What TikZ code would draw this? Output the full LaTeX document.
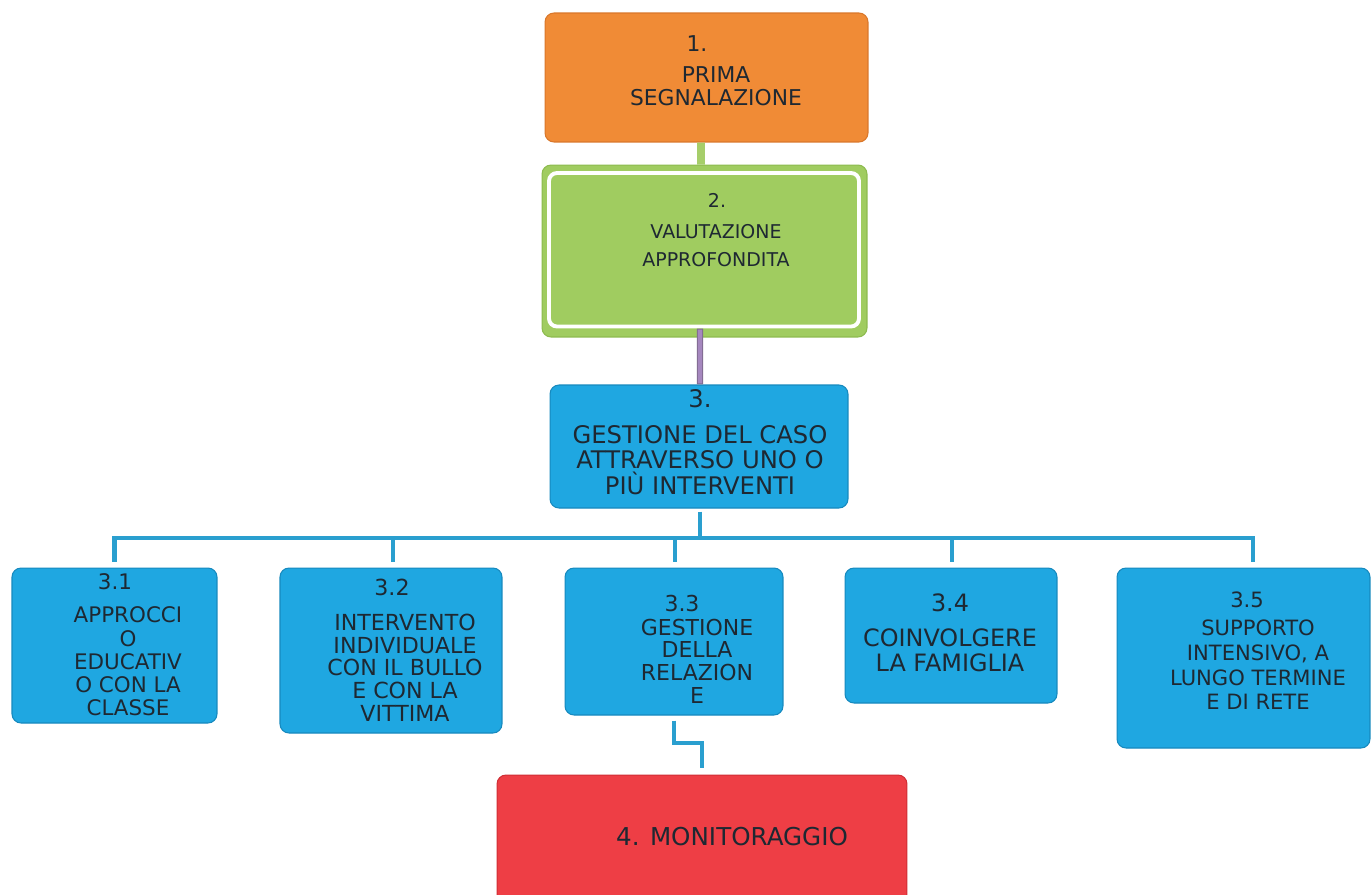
\documentclass[tikz,border=0pt]{standalone}
\usepackage{fontspec}
\setmainfont{DejaVu Sans}
\usetikzlibrary{calc}
\definecolor{orangeF}{HTML}{F08B36}
\definecolor{orangeD}{HTML}{D9772A}
\definecolor{greenF}{HTML}{A0CC60}
\definecolor{greenD}{HTML}{8DBB4E}
\definecolor{blueF}{HTML}{1FA7E1}
\definecolor{blueD}{HTML}{1689BE}
\definecolor{redF}{HTML}{EE3E45}
\definecolor{redD}{HTML}{D02E35}
\definecolor{lineB}{HTML}{2A9FCF}
\definecolor{lineG}{HTML}{A6CE6A}
\definecolor{lineP}{HTML}{A587BE}
\definecolor{linePD}{HTML}{7F6A8F}
\definecolor{textc}{HTML}{1E2832}
\newcommand\myfs[2]{\fontsize{#1pt}{#2pt}\selectfont}
\tikzset{
  stagebox/.style={rounded corners=0.18cm, line width=0.6pt, inner sep=0pt},
  orbox/.style={stagebox, fill=orangeF, draw=orangeD},
  grbox/.style={stagebox, fill=greenF, draw=greenD},
  blbox/.style={stagebox, fill=blueF, draw=blueD},
  rdbox/.style={stagebox, fill=redF, draw=redD},
  txt/.style={inner sep=0pt, align=center, text=textc},
  blueline/.style={draw=lineB, line width=2.8pt},
}
\begin{document}
\begin{tikzpicture}[x=0.02cm,y=-0.02cm]
\useasboundingbox (0,0) rectangle (1372,894);
\fill[white] (0,0) rectangle (1372,894);
\begin{scope}
\clip (0,0) rectangle (1372,894);

% Stage 1
\node[orbox, minimum width=6.46cm, minimum height=2.58cm] (b1) at (706.5,77.5) {};
% Stage 2
\node[grbox, minimum width=6.5cm, minimum height=3.44cm] (b2) at (704.5,251) {};
\draw[white, line width=2.2pt, rounded corners=0.16cm]
  ([shift={(0.15cm,-0.17cm)}]b2.north west) rectangle ([shift={(-0.17cm,0.22cm)}]b2.south east);
% Stage 3
\node[blbox, minimum width=5.96cm, minimum height=2.46cm] (b3) at (699,446.5) {};
% Children
\node[blbox, minimum width=4.1cm, minimum height=3.1cm] (c31) at (114.5,645.5) {};
\node[blbox, minimum width=4.44cm, minimum height=3.3cm] (c32) at (391,650.5) {};
\node[blbox, minimum width=4.36cm, minimum height=2.94cm] (c33) at (674,641.5) {};
\node[blbox, minimum width=4.24cm, minimum height=2.7cm] (c34) at (951,635.5) {};
\node[blbox, minimum width=5.06cm, minimum height=3.6cm] (c35) at (1243.5,658) {};
% Stage 4
\node[rdbox, minimum width=8.2cm, minimum height=2.6cm] (b4) at (702,840) {};

% Connectors
\draw[draw=lineG, line width=4.4pt] ([xshift=-0.11cm]b1.south) -- ([xshift=-0.07cm]b2.north);
\draw[draw=linePD, line width=3.6pt] ([xshift=-0.09cm,yshift=0.18cm]b2.south) -- ([xshift=0.02cm]b3.north);
\draw[draw=lineP, line width=2.4pt] ([xshift=-0.09cm,yshift=0.16cm]b2.south) -- ([xshift=0.02cm,yshift=0.02cm]b3.north);

\coordinate (bus) at (700,538);
\draw[blueline, shorten <=0.06cm] ([xshift=0.02cm]b3.south) -- (bus);
\draw[blueline, shorten >=0.12cm] (bus) -| (c31.north);
\draw[blueline, shorten >=0.12cm] (bus) -| ([xshift=0.04cm]c32.north);
\draw[blueline, shorten >=0.12cm] (bus) -| ([xshift=0.02cm]c33.north);
\draw[blueline, shorten >=0.12cm] (bus) -| ([xshift=0.02cm]c34.north);
\draw[blueline, shorten >=0.12cm] (bus) -| ([xshift=0.19cm]c35.north);

\coordinate (emid) at (690,743);
\draw[blueline, shorten <=0.1cm, shorten >=0.14cm] (c33.south) |- (emid) -| (b4.north);

% Texts
\node[txt, font=\myfs{12.4}{13}] (t1a) at (697,44) {1.};
\node[txt, font=\myfs{12.4}{13.1}] (t1b) at (716,86) {PRIMA\\SEGNALAZIONE};
\node[txt, font=\myfs{10.8}{15.9}] (t2a) at (717,200) {2.};
\node[txt, font=\myfs{10.8}{15.9}] (t2b) at (716,246) {VALUTAZIONE\\APPROFONDITA};
\node[txt, font=\myfs{13.8}{14.5}] (t3a) at (700,399) {3.};
\node[txt, font=\myfs{13.8}{14.5}] (t3b) at (700,460) {GESTIONE DEL CASO\\ATTRAVERSO UNO O\\PIÙ INTERVENTI};

\node[txt, font=\myfs{12.2}{13.2}] (t31a) at (115,582) {3.1};
\node[txt, font=\myfs{12.2}{13.2}] (t31b) at (128,661.5) {APPROCCI\\O\\EDUCATIV\\O CON LA\\CLASSE};
\node[txt, font=\myfs{12.6}{12.9}] (t32a) at (392,587) {3.2};
\node[txt, font=\myfs{12.6}{12.9}] (t32b) at (405,667.5) {INTERVENTO\\INDIVIDUALE\\CON IL BULLO\\E CON LA\\VITTIMA};
\node[txt, font=\myfs{12.5}{12.9}] (t33a) at (682,603) {3.3};
\node[txt, font=\myfs{12.5}{12.9}] (t33b) at (697,661) {GESTIONE\\DELLA\\RELAZION\\E};
\node[txt, font=\myfs{13.6}{14.2}] (t34a) at (950,603) {3.4};
\node[txt, font=\myfs{13.6}{14.2}] (t34b) at (950,650.5) {COINVOLGERE\\LA FAMIGLIA};
\node[txt, font=\myfs{12}{14}] (t35a) at (1247,600) {3.5};
\node[txt, font=\myfs{12}{14}] (t35b) at (1258,665) {SUPPORTO\\INTENSIVO, A\\LUNGO TERMINE\\E DI RETE};

\node[txt, font=\myfs{14}{15}] (t4) at (732,837) {4. MONITORAGGIO};
\end{scope}
\end{tikzpicture}
\end{document}
